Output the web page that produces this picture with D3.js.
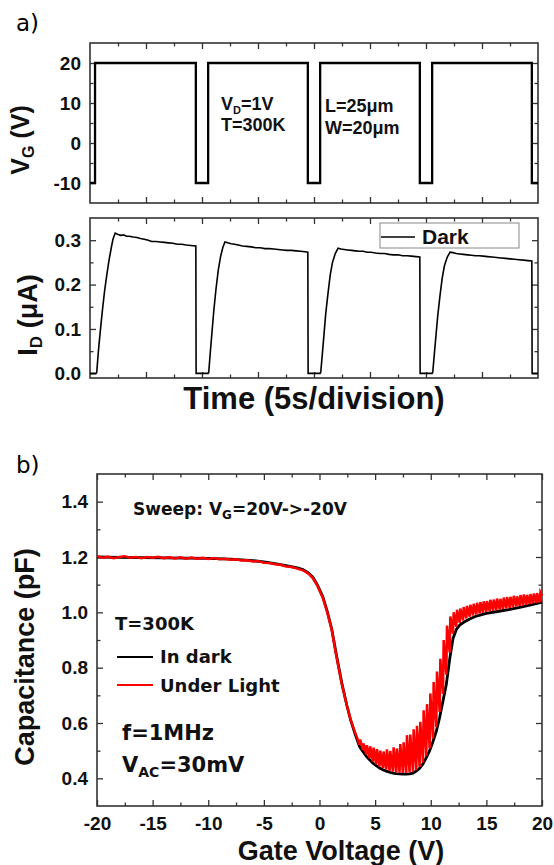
<!DOCTYPE html>
<html>
<head>
<meta charset="utf-8">
<script src="https://cdn.jsdelivr.net/npm/d3@7"></script>
<style>
  body { margin: 0; background: #fff; }
</style>
</head>
<body>
<div id="chart"></div>
<script>
// ---- values ----

// panel a, top: gate pulse [time (s), V_G (V)]
const vgPulse = [
  [0, -10], [0.9, -10], [0.9, 20], [18.9, 20], [18.9, -10], [21.1, -10], [21.1, 20],
  [38.9, 20], [38.9, -10], [41.1, -10], [41.1, 20], [58.9, 20], [58.9, -10],
  [61.1, -10], [61.1, 20], [78.9, 20], [78.9, -10], [80, -10],
];

// panel a, bottom: drain current in the dark [time (s), I_D (uA)]
const idDark = [
  [0, 0], [1.1, 0], [1.2, 0.002], [1.5, 0.05], [1.8, 0.09], [2.2, 0.14], [2.6, 0.185],
  [3.0, 0.222], [3.4, 0.255], [3.8, 0.283], [4.1, 0.302], [4.5, 0.316], [5.0, 0.313],
  [5.5, 0.311], [6.0, 0.312], [6.5, 0.309], [7.0, 0.309], [7.7, 0.307], [8.4, 0.306],
  [9.0, 0.304], [9.7, 0.302], [10.4, 0.3], [11.0, 0.297], [11.8, 0.297], [12.5, 0.296],
  [13.3, 0.295], [14.0, 0.294], [14.8, 0.293], [15.6, 0.291], [16.4, 0.291], [17.2, 0.289],
  [18.0, 0.288], [18.9, 0.287], [18.95, 0], [21.1, 0],
  [21.2, 0.002], [21.5, 0.05], [21.8, 0.095], [22.1, 0.14], [22.5, 0.19], [22.9, 0.232],
  [23.3, 0.262], [23.7, 0.283], [24.1, 0.296], [24.6, 0.294], [25.2, 0.292], [25.8, 0.291],
  [26.5, 0.289], [27.2, 0.287], [28.0, 0.286], [28.8, 0.285], [29.6, 0.283], [30.4, 0.283],
  [31.2, 0.281], [32.0, 0.281], [32.8, 0.28], [33.6, 0.279], [34.4, 0.278], [35.2, 0.277],
  [36.0, 0.277], [36.8, 0.276], [37.6, 0.275], [38.4, 0.274], [38.9, 0.273], [38.95, 0], [41.1, 0],
  [41.2, 0.002], [41.5, 0.045], [41.8, 0.09], [42.1, 0.135], [42.5, 0.18], [42.9, 0.222],
  [43.3, 0.25], [43.8, 0.27], [44.3, 0.282], [44.8, 0.28], [45.4, 0.279], [46.0, 0.278],
  [46.7, 0.277], [47.4, 0.276], [48.1, 0.275], [48.8, 0.275], [49.5, 0.273], [50.2, 0.273],
  [51.0, 0.271], [51.8, 0.27], [52.6, 0.27], [53.4, 0.268], [54.2, 0.267], [55.0, 0.267],
  [55.8, 0.265], [56.6, 0.265], [57.4, 0.264], [58.2, 0.263], [58.9, 0.262], [58.95, 0], [61.1, 0],
  [61.2, 0.002], [61.5, 0.045], [61.8, 0.088], [62.1, 0.13], [62.5, 0.175], [62.9, 0.215],
  [63.3, 0.243], [63.8, 0.262], [64.3, 0.273], [64.8, 0.272], [65.4, 0.27], [66.0, 0.269],
  [66.7, 0.268], [67.4, 0.267], [68.1, 0.266], [68.8, 0.265], [69.5, 0.265], [70.2, 0.264],
  [71.0, 0.263], [71.8, 0.262], [72.6, 0.261], [73.4, 0.26], [74.2, 0.259], [75.0, 0.258],
  [75.8, 0.257], [76.6, 0.256], [77.4, 0.255], [78.2, 0.254], [78.9, 0.253], [78.95, 0], [80, 0],
];

// panel b: C-V in the dark [gate voltage (V), capacitance (pF)]
const cvDark = [
  [-20, 1.2], [-18, 1.199], [-16, 1.198], [-14, 1.197], [-12, 1.196], [-10, 1.195], [-8, 1.192],
  [-6, 1.187], [-5, 1.182], [-4, 1.176], [-3, 1.169], [-2, 1.161], [-1.5, 1.155], [-1, 1.143],
  [-0.6, 1.127], [-0.2, 1.1], [0.3, 1.056], [0.7, 1.003], [1.1, 0.94], [1.5, 0.85], [2.0, 0.745],
  [2.45, 0.665], [2.8, 0.61], [3.2, 0.56], [3.6, 0.515], [3.9, 0.497], [4.2, 0.48], [4.5, 0.467],
  [4.8, 0.455], [5.1, 0.446], [5.4, 0.437], [5.7, 0.431], [6.0, 0.426], [6.3, 0.422], [6.6, 0.419],
  [6.9, 0.417], [7.2, 0.416], [7.5, 0.415], [7.8, 0.415], [8.1, 0.416], [8.4, 0.419], [8.7, 0.426],
  [9.0, 0.436], [9.3, 0.452], [9.6, 0.475], [9.9, 0.5], [10.2, 0.533], [10.5, 0.57], [10.8, 0.62],
  [11.1, 0.68], [11.4, 0.74], [11.7, 0.83], [12.0, 0.905], [12.3, 0.938], [12.6, 0.954],
  [13.0, 0.965], [13.5, 0.976], [14.0, 0.985], [14.5, 0.991], [15.0, 0.996], [16.0, 1.003],
  [17.0, 1.01], [18.0, 1.018], [19.0, 1.027], [20.0, 1.037],
];

// panel b: C-V under light, noisy sawtooth above the dark curve
const cvLight = [
  [-20, 1.203], [-19.5, 1.197], [-19, 1.201], [-18.5, 1.196], [-18, 1.2], [-17.5, 1.203],
  [-17, 1.197], [-16.5, 1.2], [-16, 1.196], [-15.5, 1.2], [-15, 1.197], [-14.5, 1.201],
  [-14, 1.196], [-13.5, 1.199], [-13, 1.195], [-12.5, 1.199], [-12, 1.194], [-11.5, 1.198],
  [-11, 1.194], [-10.5, 1.197], [-10, 1.193], [-9.5, 1.196], [-9, 1.192], [-8.5, 1.194],
  [-8, 1.19], [-7.5, 1.192], [-7, 1.187], [-6.5, 1.188], [-6, 1.184], [-5.5, 1.185],
  [-5, 1.179], [-4.5, 1.178], [-4, 1.174], [-3.5, 1.172], [-3, 1.166], [-2.5, 1.164],
  [-2, 1.158], [-1.5, 1.152], [-1, 1.14], [-0.6, 1.124], [-0.2, 1.097], [0.3, 1.052],
  [0.7, 1.0], [1.1, 0.936], [1.5, 0.845], [2.0, 0.742], [2.45, 0.665], [2.8, 0.612],
  [3.2, 0.565], [3.4, 0.545],
  [3.6, 0.522], [3.66, 0.54], [3.9, 0.503], [3.96, 0.526], [4.2, 0.487], [4.26, 0.52],
  [4.5, 0.473], [4.56, 0.516], [4.8, 0.461], [4.86, 0.511], [5.1, 0.451], [5.16, 0.506],
  [5.4, 0.443], [5.46, 0.5], [5.7, 0.437], [5.76, 0.497], [6.0, 0.431], [6.06, 0.505],
  [6.3, 0.427], [6.36, 0.499], [6.6, 0.424], [6.66, 0.512], [6.9, 0.422], [6.96, 0.508],
  [7.2, 0.421], [7.26, 0.524], [7.5, 0.42], [7.56, 0.53], [7.8, 0.42], [7.86, 0.556],
  [8.1, 0.421], [8.16, 0.558], [8.4, 0.424], [8.46, 0.577], [8.7, 0.43], [8.76, 0.59],
  [9.0, 0.441], [9.06, 0.604], [9.3, 0.457], [9.36, 0.646], [9.6, 0.481], [9.66, 0.668],
  [9.9, 0.508], [9.96, 0.707], [10.2, 0.543], [10.26, 0.748], [10.5, 0.585], [10.56, 0.786],
  [10.8, 0.64], [10.86, 0.832], [11.1, 0.705], [11.16, 0.9], [11.4, 0.775], [11.46, 0.952],
  [11.7, 0.855], [11.76, 0.985], [12.0, 0.922], [12.06, 1.0], [12.3, 0.948], [12.36, 1.009],
  [12.6, 0.962], [12.66, 1.014], [12.9, 0.971], [12.96, 1.019], [13.2, 0.978], [13.26, 1.024],
  [13.5, 0.984], [13.56, 1.027], [13.8, 0.989], [13.86, 1.031], [14.1, 0.992], [14.16, 1.034],
  [14.4, 0.996], [14.46, 1.037], [14.7, 0.999], [14.76, 1.04], [15.0, 1.002], [15.06, 1.041],
  [15.3, 1.004], [15.36, 1.045], [15.6, 1.006], [15.66, 1.046], [15.9, 1.008], [15.96, 1.05],
  [16.2, 1.01], [16.26, 1.049], [16.5, 1.012], [16.56, 1.053], [16.8, 1.014], [16.86, 1.055],
  [17.1, 1.016], [17.16, 1.056], [17.4, 1.019], [17.46, 1.06], [17.7, 1.021], [17.76, 1.058],
  [18.0, 1.023], [18.06, 1.062], [18.3, 1.025], [18.36, 1.064], [18.6, 1.027], [18.66, 1.063],
  [18.9, 1.03], [18.96, 1.066], [19.2, 1.032], [19.26, 1.068], [19.5, 1.034], [19.56, 1.07],
  [19.8, 1.036], [19.86, 1.072], [20.0, 1.06],
];

// ticks
const timeMajor = [10, 20, 30, 40, 50, 60, 70];
const timeMinor = [5, 15, 25, 35, 45, 55, 65, 75];
const vgMajor = [-10, 0, 10, 20];
const vgMinor = [-5, 5, 15];
const idMajor = [0, 0.1, 0.2, 0.3];
const idMinor = [0.05, 0.15, 0.25];
const gateMajor = [-20, -15, -10, -5, 0, 5, 10, 15, 20];
const gateMinor = [-17.5, -12.5, -7.5, -2.5, 2.5, 7.5, 12.5, 17.5];
const capMajor = [0.4, 0.6, 0.8, 1.0, 1.2, 1.4];
const capMinor = [0.5, 0.7, 0.9, 1.1, 1.3];

// ---- layout ----
const WIDTH = 554;
const HEIGHT = 865;
const ARIAL = '"Liberation Sans", Arial, sans-serif';
const DEJAVU = '"DejaVu Sans", sans-serif';

const svg = d3.select('#chart').append('svg').attr('width', WIDTH).attr('height', HEIGHT);

const tScale = d3.scaleLinear().domain([0, 80]).range([90, 538]);
const vgScale = d3.scaleLinear().domain([-15, 25]).range([203, 43]);
const tScale2 = d3.scaleLinear().domain([0, 80]).range([90, 538]);
const idScale = d3.scaleLinear().domain([-0.0105, 0.35]).range([378, 218]);
const gateScale = d3.scaleLinear().domain([-20, 20]).range([97, 542]);
const capScale = d3.scaleLinear().domain([0.3, 1.5]).range([806, 474]);

// plain hyphen for negatives, like the original
const intFormat = (d) => String(d);
const oneDecimal = (d) => d.toFixed(1);

/**
 * frame + inward ticks on all four sides, labels on left / bottom only
 */
function drawFrame(x, y, xMajor, xMinor, yMajor, yMinor, opts) {
  const [x0, x1] = x.range();
  const [y0, y1] = y.range();
  const sides = [
    { axis: d3.axisBottom, scale: x, at: `translate(0,${y0})`, major: xMajor, minor: xMinor, label: opts.xFormat },
    { axis: d3.axisTop, scale: x, at: `translate(0,${y1})`, major: xMajor, minor: xMinor },
    { axis: d3.axisLeft, scale: y, at: `translate(${x0},0)`, major: yMajor, minor: yMinor, label: opts.yFormat },
    { axis: d3.axisRight, scale: y, at: `translate(${x1},0)`, major: yMajor, minor: yMinor },
  ];
  sides.forEach((s) => {
    const isX = s.scale === x;
    const gMaj = svg
      .append('g')
      .attr('transform', s.at)
      .call(
        s.axis(s.scale)
          .tickValues(s.major)
          .tickSizeInner(-6)
          .tickSizeOuter(0)
          .tickPadding(isX ? opts.xPad : opts.yPad)
          .tickFormat(s.label ? s.label : () => '')
      );
    gMaj.attr('font-family', ARIAL).attr('font-size', opts.tickSize).attr('font-weight', 'bold');
    gMaj.select('.domain').remove();
    gMaj.selectAll('.tick line').attr('stroke', '#333').attr('stroke-width', 1.3);
    gMaj.selectAll('.tick text').attr('fill', '#111');

    const gMin = svg
      .append('g')
      .attr('transform', s.at)
      .call(s.axis(s.scale).tickValues(s.minor).tickSizeInner(-3.5).tickSizeOuter(0).tickFormat(() => ''));
    gMin.select('.domain').remove();
    gMin.selectAll('.tick line').attr('stroke', '#333').attr('stroke-width', 1.3);
  });

  svg
    .append('rect')
    .attr('x', x0)
    .attr('y', y1)
    .attr('width', x1 - x0)
    .attr('height', y0 - y1)
    .attr('fill', 'none')
    .attr('stroke', '#333')
    .attr('stroke-width', 1.6);
}

/**
 * text with optional subscripts: parts = [[string, isSub], ...]
 */
function addText(x, y, parts, font, size, subSize, shift, transform) {
  const t = svg
    .append('text')
    .attr('x', x)
    .attr('y', y)
    .attr('font-family', font)
    .attr('font-size', size)
    .attr('font-weight', 'bold')
    .attr('fill', '#111');
  if (transform) t.attr('transform', transform);
  let down = false;
  parts.forEach(([s, sub]) => {
    if (sub) {
      t.append('tspan').attr('font-size', subSize).attr('dy', shift).text(s);
    } else {
      const sp = t.append('tspan').text(s);
      if (down) sp.attr('dy', -shift);
    }
    down = !!sub;
  });
  return t;
}

function drawLine(data, x, y, color, width) {
  svg
    .append('path')
    .datum(data)
    .attr('fill', 'none')
    .attr('stroke', color)
    .attr('stroke-width', width)
    .attr(
      'd',
      d3
        .line()
        .x((d) => x(d[0]))
        .y((d) => y(d[1]))
    );
}

// panel labels
svg.append('text').attr('x', 16).attr('y', 31).attr('font-family', DEJAVU).attr('font-size', 23).text('a)');
svg.append('text').attr('x', 16).attr('y', 473).attr('font-family', DEJAVU).attr('font-size', 23).text('b)');

// ---- panel a: V_G ----
drawFrame(tScale, vgScale, timeMajor, timeMinor, vgMajor, vgMinor, { yFormat: intFormat, yPad: 9, xPad: 9, tickSize: 19 });
drawLine(vgPulse, tScale, vgScale, '#000', 2.3);
addText(221, 110, [['V'], ['D', true], ['=1V']], ARIAL, 18, 11, 4);
addText(221, 131, [['T=300K']], ARIAL, 18);
addText(325, 112, [['L=25μm']], ARIAL, 18);
addText(325, 134, [['W=20μm']], ARIAL, 18);
addText(0, 0, [['V'], ['G', true], [' (V)']], ARIAL, 25, 16, 5, 'translate(29,140) rotate(-90)').attr('text-anchor', 'middle');

// ---- panel a: I_D ----
drawFrame(tScale2, idScale, timeMajor, timeMinor, idMajor, idMinor, { yFormat: oneDecimal, yPad: 9, xPad: 9, tickSize: 19 });
drawLine(idDark, tScale2, idScale, '#000', 1.6);
addText(0, 0, [['I'], ['D', true], [' (μA)']], ARIAL, 27, 17, 5, 'translate(37,315) rotate(-90)').attr('text-anchor', 'middle');
addText(314, 409, [['Time (5s/division)']], ARIAL, 31).attr('text-anchor', 'middle');

// legend
svg.append('rect').attr('x', 380).attr('y', 223).attr('width', 139).attr('height', 25)
  .attr('fill', '#fff').attr('stroke', '#888').attr('stroke-width', 1);
svg.append('line').attr('x1', 381).attr('x2', 415).attr('y1', 237).attr('y2', 237)
  .attr('stroke', '#000').attr('stroke-width', 1.6);
addText(422, 244, [['Dark']], ARIAL, 21);

// ---- panel b: C-V ----
drawFrame(gateScale, capScale, gateMajor, gateMinor, capMajor, capMinor, { xFormat: intFormat, yFormat: oneDecimal, yPad: 9, xPad: 11, tickSize: 19 });
drawLine(cvDark, gateScale, capScale, '#000', 2.8);
drawLine(cvLight, gateScale, capScale, '#ff0000', 2.5);

addText(133, 515, [['Sweep: V'], ['G', true], ['=20V->-20V']], DEJAVU, 17, 12, 4);
addText(115, 630, [['T=300K']], DEJAVU, 18);
svg.append('line').attr('x1', 117).attr('x2', 153).attr('y1', 657).attr('y2', 657).attr('stroke', '#000').attr('stroke-width', 2.2);
svg.append('line').attr('x1', 117).attr('x2', 153).attr('y1', 685).attr('y2', 685).attr('stroke', '#ff0000').attr('stroke-width', 2.2);
addText(160, 663, [['In dark']], DEJAVU, 18);
addText(160, 692, [['Under Light']], DEJAVU, 18);
addText(122, 740, [['f=1MHz']], DEJAVU, 21);
addText(122, 772, [['V'], ['AC', true], ['=30mV']], DEJAVU, 21, 14, 5);

addText(341, 860, [['Gate Voltage (V)']], ARIAL, 27).attr('text-anchor', 'middle');
addText(0, 0, [['Capacitance (pF)']], ARIAL, 27, 0, 0, 'translate(34,657) rotate(-90)').attr('text-anchor', 'middle');
</script>
</body>
</html>
